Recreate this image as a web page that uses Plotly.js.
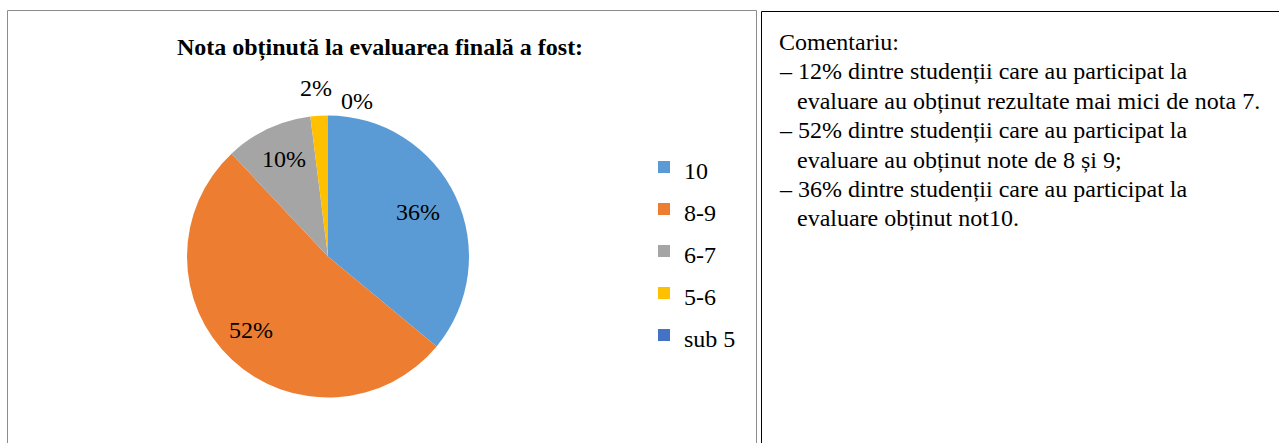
<!DOCTYPE html>
<html>
<head>
<meta charset="utf-8">
<script src="https://cdn.plot.ly/plotly-3.0.1.min.js"></script>
<style>html,body{margin:0;padding:0;background:#fff;}#chart{width:1279px;height:443px;}</style>
</head>
<body>
<div id="chart"></div>
<script>
const categories = ['10', '8-9', '6-7', '5-6', 'sub 5'];
const values = [36, 52, 10, 2, 0];
const sliceColors = ['#5B9BD5', '#ED7D31', '#A5A5A5', '#FFC000', '#4472C4'];
const labelOutside = [false, false, false, true, true];
const titleText = 'Nota obținută la evaluarea finală a fost:';
const commentLines = [
  'Comentariu:',
  '– 12% dintre studenții care au participat la',
  'evaluare au obținut rezultate mai mici de nota 7.',
  '– 52% dintre studenții care au participat la',
  'evaluare au obținut note de 8 și 9;',
  '– 36% dintre studenții care au participat la',
  'evaluare obținut not10.'
];

const W = 1279, H = 443;
const px = v => v / W;
const py = v => 1 - v / H;
const serif = 'Liberation Serif, Times New Roman, serif';

// pie geometry (pixels)
const pie = {left: 187, right: 469, top: 115, bottom: 398};
const cx = (pie.left + pie.right) / 2, cy = (pie.top + pie.bottom) / 2;
const R = (pie.right - pie.left) / 2;
// label placement nudges (pixels) to avoid overlap, like the original
const labelNudge = [[-4, 0], [-6, -3], [0, -3], [-2, -2], [29, 11]];

const legendLabels = categories.map(c => '<span style="font-size:24px">' + c + '</span>');

const trace = {
  type: 'pie',
  labels: legendLabels,
  values: values,
  sort: false,
  direction: 'clockwise',
  rotation: 0,
  marker: {colors: sliceColors, line: {color: '#ffffff', width: 0}},
  textinfo: 'none',
  domain: {x: [px(pie.left), px(pie.right)], y: [py(pie.bottom), py(pie.top)]},
  automargin: false,
  hoverinfo: 'none'
};

const total = values.reduce((a, b) => a + b, 0);
const pieLabels = [];
let cum = 0;
values.forEach((v, i) => {
  const mid = (cum + v / 2) / total * 2 * Math.PI;
  cum += v;
  const f = labelOutside[i] ? 1.18 : 0.74;
  const x = cx + Math.sin(mid) * R * f + labelNudge[i][0];
  const y = cy - Math.cos(mid) * R * f + labelNudge[i][1];
  pieLabels.push({
    text: Math.round(v / total * 100) + '%',
    xref: 'paper', yref: 'paper', x: px(x), y: py(y),
    xanchor: 'center', yanchor: 'middle', showarrow: false,
    font: {family: serif, size: 24, color: '#000'}
  });
});

const commentAnn = commentLines.map((t, i) => ({
  text: t,
  xref: 'paper', yref: 'paper',
  x: px(t.startsWith('–') || i === 0 ? 777 : 795),
  y: py(42 + i * 29.4),
  xanchor: 'left', yanchor: 'middle',
  showarrow: false,
  font: {family: serif, size: 24, color: '#000'}
}));

const layout = {
  width: W, height: H,
  margin: {l: 0, r: 0, t: 0, b: 0},
  paper_bgcolor: '#fff',
  title: {
    text: '<b>' + titleText + '</b>',
    x: px(380), xanchor: 'center', xref: 'paper',
    y: py(47), yanchor: 'middle', yref: 'paper',
    font: {family: serif, size: 24, color: '#000'}
  },
  showlegend: true,
  legend: {
    x: px(644), xanchor: 'left',
    y: py(141), yanchor: 'top',
    font: {family: serif, size: 30, color: '#000'},
    bgcolor: 'rgba(0,0,0,0)'
  },
  shapes: [
    {type: 'rect', xref: 'paper', yref: 'paper', x0: px(7.5), x1: px(756.5), y0: py(450), y1: py(10.5),
     line: {color: '#8C8C8C', width: 1}, fillcolor: 'rgba(0,0,0,0)'},
    {type: 'rect', xref: 'paper', yref: 'paper', x0: px(761.5), x1: px(1290), y0: py(450), y1: py(11.5),
     line: {color: '#000', width: 1}, fillcolor: 'rgba(0,0,0,0)'}
  ],
  annotations: pieLabels.concat(commentAnn)
};

Plotly.newPlot('chart', [trace], layout, {displayModeBar: false, staticPlot: true});
</script>
</body>
</html>
